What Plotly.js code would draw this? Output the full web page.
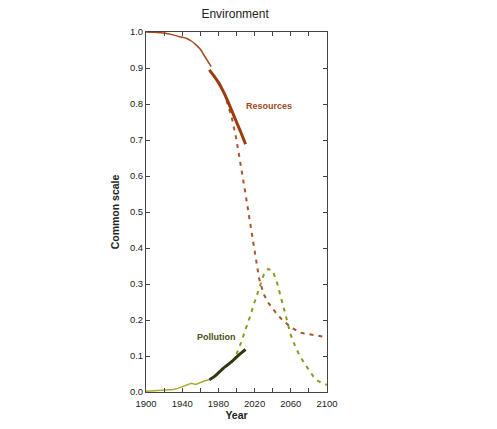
<!DOCTYPE html>
<html>
<head>
<meta charset="utf-8">
<script src="https://cdn.plot.ly/plotly-3.0.1.min.js"></script>
<style>html,body{margin:0;padding:0;background:#fff;}</style>
</head>
<body>
<div id="chart" style="width:497px;height:429px;"></div>
<script>
// Resources: historical (thin), recent data (thick), projection (dashed)
const resHistYears = [1900, 1910, 1920, 1930, 1937, 1945, 1950, 1955, 1960, 1965, 1972];
const resHistVals  = [1.0, 0.999, 0.997, 0.992, 0.987, 0.982, 0.975, 0.965, 0.952, 0.932, 0.904];
const resDataYears = [1970, 1975, 1980, 1985, 1990, 1995, 2000, 2005, 2010];
const resDataVals  = [0.895, 0.878, 0.86, 0.837, 0.81, 0.78, 0.75, 0.72, 0.688];
const resProjYears = [1989, 1995, 2000, 2005, 2010, 2015, 2020, 2025, 2030, 2035, 2040, 2045, 2050, 2055, 2060, 2070, 2080, 2090, 2100];
const resProjVals  = [0.81, 0.76, 0.70, 0.63, 0.55, 0.47, 0.39, 0.315, 0.272, 0.248, 0.232, 0.215, 0.202, 0.19, 0.18, 0.165, 0.16, 0.155, 0.152];

// Pollution: historical (thin), recent data (thick), projection (dashed)
const polHistYears = [1900, 1915, 1930, 1935, 1941, 1946, 1950, 1955, 1960, 1965, 1970];
const polHistVals  = [0.002, 0.004, 0.007, 0.01, 0.015, 0.019, 0.024, 0.021, 0.027, 0.031, 0.034];
const polDataYears = [1970, 1975, 1980, 1985, 1990, 1995, 2000, 2005, 2010];
const polDataVals  = [0.034, 0.042, 0.053, 0.065, 0.075, 0.085, 0.097, 0.108, 0.118];
const polProjYears = [1995, 2000, 2005, 2010, 2015, 2020, 2025, 2030, 2035, 2040, 2045, 2050, 2055, 2060, 2065, 2070, 2075, 2080, 2085, 2090, 2095, 2100];
const polProjVals  = [0.083, 0.105, 0.137, 0.172, 0.21, 0.25, 0.29, 0.325, 0.342, 0.337, 0.302, 0.255, 0.2, 0.158, 0.126, 0.1, 0.08, 0.06, 0.043, 0.031, 0.024, 0.02];

const xTickVals = [1900, 1920, 1940, 1960, 1980, 2000, 2020, 2040, 2060, 2080, 2100];
const xTickText = ['1900', '', '1940', '', '1980', '', '2020', '', '2060', '', '2100'];
const yTickVals = [0, 0.1, 0.2, 0.3, 0.4, 0.5, 0.6, 0.7, 0.8, 0.9, 1.0];
const yTickText = ['0.0', '0.1', '0.2', '0.3', '0.4', '0.5', '0.6', '0.7', '0.8', '0.9', '1.0'];

const traces = [
  {x: resProjYears, y: resProjVals, mode: 'lines', line: {color: '#a9542a', width: 2, dash: '4px,5px'}},
  {x: polProjYears, y: polProjVals, mode: 'lines', line: {color: '#8b9a1e', width: 2, dash: '4px,5px'}},
  {x: resHistYears, y: resHistVals, mode: 'lines', line: {color: '#a4481c', width: 1.5, shape: 'spline'}},
  {x: resDataYears, y: resDataVals, mode: 'lines', line: {color: '#9a3c0e', width: 3, shape: 'spline'}},
  {x: polHistYears, y: polHistVals, mode: 'lines', line: {color: '#a9ab2e', width: 1.5}},
  {x: polDataYears, y: polDataVals, mode: 'lines', line: {color: '#2e3812', width: 3, shape: 'spline'}}
];

const layout = {
  width: 497, height: 429,
  margin: {l: 146, r: 170, t: 32, b: 37},
  paper_bgcolor: '#fff', plot_bgcolor: '#fff',
  showlegend: false,
  font: {family: 'Liberation Sans, Arial, sans-serif', color: '#222', size: 9},
  title: {text: 'Environment', x: 0.473, xanchor: 'center', y: 0.968, yanchor: 'middle', font: {size: 12, color: '#222'}},
  xaxis: {
    range: [1900, 2100], tickmode: 'array', tickvals: xTickVals, ticktext: xTickText,
    ticks: 'inside', ticklen: 4, tickcolor: '#444', mirror: 'ticks',
    showline: true, linecolor: '#444', linewidth: 1, showgrid: false, zeroline: false,
    tickfont: {size: 9.5, color: '#222'}, ticklabelstandoff: 3, fixedrange: true,
    title: {text: '<b>Year</b>', standoff: 1, font: {size: 10.5}}
  },
  yaxis: {
    range: [0, 1.0], tickmode: 'array', tickvals: yTickVals, ticktext: yTickText,
    ticks: 'inside', ticklen: 4, tickcolor: '#444', mirror: 'ticks',
    showline: true, linecolor: '#444', linewidth: 1, showgrid: false, zeroline: false,
    tickfont: {size: 9.5, color: '#222'}, fixedrange: true,
    title: {text: '<b>Common scale</b>', standoff: 8, font: {size: 10.5}}
  },
  annotations: [
    {x: 2036, y: 0.795, xref: 'x', yref: 'y', text: '<b>Resources</b>', showarrow: false, font: {size: 9, color: '#9c4a1e'}},
    {x: 1978, y: 0.152, xref: 'x', yref: 'y', text: '<b>Pollution</b>', showarrow: false, font: {size: 9, color: '#4a5214'}}
  ]
};

Plotly.newPlot('chart', traces, layout, {staticPlot: true, displayModeBar: false});
</script>
</body>
</html>
